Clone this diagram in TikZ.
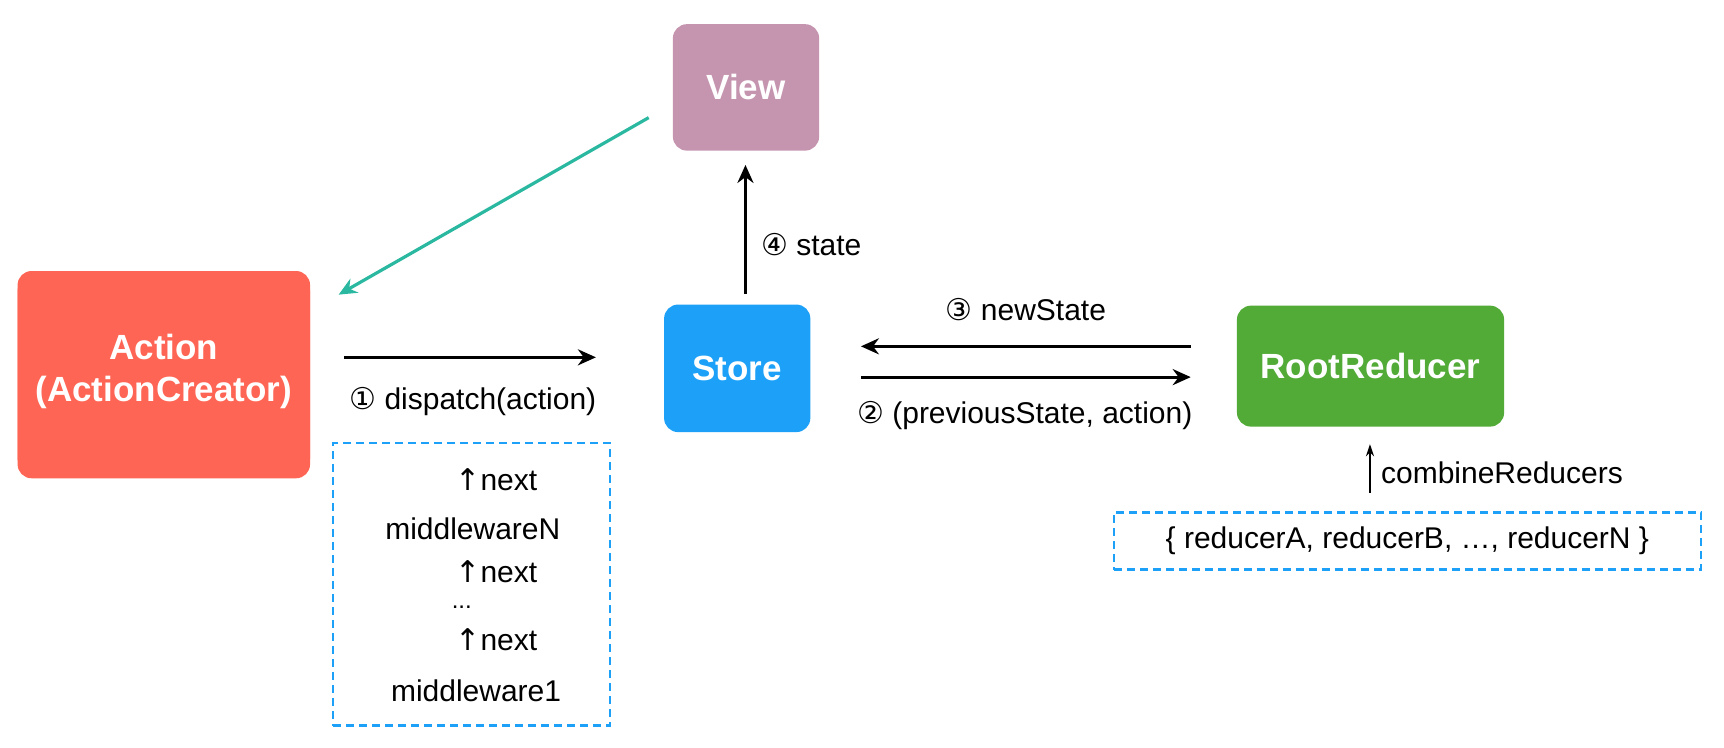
\documentclass[tikz,border=0pt]{standalone}
\usepackage{fontspec}
\setmainfont{Liberation Sans}
\newfontfamily\circf{DejaVu Sans}
\usetikzlibrary{arrows.meta}
\definecolor{viewc}{HTML}{C595B0}
\definecolor{actc}{HTML}{FF6554}
\definecolor{storec}{HTML}{1DA1F8}
\definecolor{redc}{HTML}{52AA37}
\definecolor{tealc}{HTML}{2BB8A0}
\definecolor{dashc}{HTML}{1DA1F8}
\newcommand{\cn}[1]{{\circf #1}}
\begin{document}
\begin{tikzpicture}[x=0.55pt,y=-0.55pt,
  box/.style={rounded corners=7pt,inner sep=0pt,text=white,font=\fontsize{17.5}{21}\selectfont\bfseries,align=center},
  lbl/.style={font=\fontsize{15}{17}\selectfont,inner sep=1pt},
  arr/.style={line width=1.6pt,-{Stealth[length=9pt,width=8pt]}},
  thin/.style={line width=1pt,-{Stealth[length=6pt,width=4pt]}},
  dbox/.style={draw=dashc,dashed,line width=1.2pt,dash pattern=on 4pt off 2.5pt}]
\useasboundingbox (0,0) rectangle (1568,680);
\node[box,fill=viewc,minimum width=133*0.55pt,minimum height=115*0.55pt] (view) at (678.5,79.5) {View};
\node[box,fill=actc,minimum width=266*0.55pt,minimum height=183*0.55pt] (act) at (149,338) {Action\\(ActionCreator)};
\node[box,fill=storec,minimum width=133*0.55pt,minimum height=116*0.55pt] (store) at (670.5,335) {Store};
\node[box,fill=redc,minimum width=243*0.55pt,minimum height=110*0.55pt] (red) at (1246.5,333) {RootReducer};
\path[fill=actc,rounded corners=7pt] (16,252) rectangle (282,435);
\node[box,align=center] (actt) at (149,338) {Action\\(ActionCreator)};
\coordinate (t1) at (590,107); \coordinate (t2) at (308,268);
\draw[arr,tealc] (t1) -- (t2);
\coordinate (s1) at (678,267); \coordinate (s2) at (678,150);
\draw[arr] (s1) -- (s2);
\node[lbl,anchor=west] (st) at (690,222) {\cn{④} state};
\coordinate (d1) at (313,325); \coordinate (d2) at (542,325);
\draw[arr] (d1) -- (d2);
\node[lbl] (dl) at (430,365) {\cn{①} dispatch(action)};
\coordinate (n1) at (1083,315); \coordinate (n2) at (783,315);
\draw[arr] (n1) -- (n2);
\node[lbl] (nl) at (933,282) {\cn{③} newState};
\coordinate (p1) at (783,343); \coordinate (p2) at (1083,343);
\draw[arr] (p1) -- (p2);
\node[lbl] (pl) at (932,378) {\cn{②} (previousState, action)};
\node[dbox,minimum width=252*0.55pt,minimum height=257*0.55pt] (mw) at (429,531.5) {};
\node[lbl,anchor=west] (x1) at (412,436) {\cn{↑}next};
\node[lbl] (x2) at (430,481) {middlewareN};
\node[lbl,anchor=west] (x3) at (412,520) {\cn{↑}next};
\node[lbl,font=\fontsize{12}{14}\selectfont] (x4) at (420,552) {...};
\node[lbl,anchor=west] (x5) at (412,582) {\cn{↑}next};
\node[lbl] (x6) at (433,628) {middleware1};
\node[dbox,lbl,minimum width=534*0.55pt,minimum height=52*0.55pt] (rb) at (1280,492) {\{ reducerA, reducerB, …, reducerN \}};
\coordinate (c1) at (1246,448); \coordinate (c2) at (1246,404);
\draw[thin] (c1) -- (c2);
\node[lbl,anchor=west] (cl) at (1254,430) {combineReducers};
\end{tikzpicture}
\end{document}
